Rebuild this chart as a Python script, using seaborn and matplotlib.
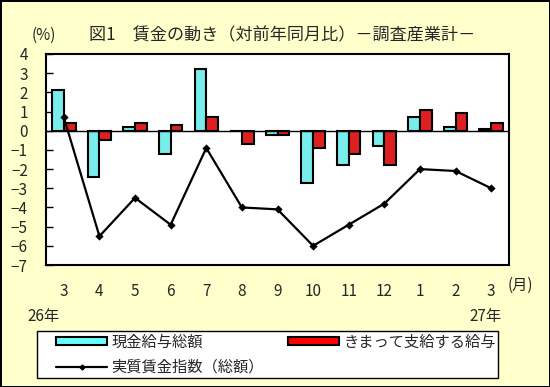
import matplotlib
matplotlib.use('Agg')
import matplotlib.pyplot as plt
import seaborn as sns
import pandas as pd
from matplotlib.patches import Patch, Rectangle
from matplotlib.lines import Line2D

# データ(対前年同月比, %)
periods = ['26-3', '26-4', '26-5', '26-6', '26-7', '26-8', '26-9', '26-10',
           '26-11', '26-12', '27-1', '27-2', '27-3']
month_labels = ['3', '4', '5', '6', '7', '8', '9', '10', '11', '12', '1', '2', '3']
genkin = [2.1, -2.4, 0.2, -1.2, 3.2, 0.0, -0.2, -2.7, -1.8, -0.8, 0.7, 0.2, 0.1]
kimatte = [0.4, -0.5, 0.4, 0.3, 0.7, -0.7, -0.2, -0.9, -1.2, -1.8, 1.1, 0.9, 0.4]
jisshitsu = [0.7, -5.5, -3.5, -4.9, -0.9, -4.0, -4.1, -6.0, -4.9, -3.8, -2.0, -2.1, -3.0]

s1 = '現金給与総額'
s2 = 'きまって支給する給与'
s3 = '実質賃金指数（総額）'

df = pd.DataFrame({
    '期間': periods * 2,
    '値': genkin + kimatte,
    '系列': [s1] * len(periods) + [s2] * len(periods),
})
df_line = pd.DataFrame({'期間': periods, '値': jisshitsu})

sns.set_theme(style='white')
plt.rcParams['font.family'] = ['Noto Sans CJK JP', 'DejaVu Sans']

bg = '#FFFFCC'
colors = {s1: '#66FFFF', s2: '#FF0000'}

fig = plt.figure(figsize=(5.5, 3.87), dpi=100)
fig.patch.set_facecolor(bg)
fig.patch.set_edgecolor('black')
fig.patch.set_linewidth(2)
ax = fig.add_axes([46 / 550, 1 - 265 / 387, (509 - 46) / 550, (265 - 54) / 387])
ax.set_facecolor('white')

sns.barplot(data=df, x='期間', y='値', hue='系列', order=periods,
            palette=colors, edgecolor='black', linewidth=1.5,
            width=0.66, gap=0, legend=False, ax=ax)
sns.pointplot(data=df_line, x='期間', y='値', order=periods, color='black',
              markers='D', markersize=3, linewidth=1.6, ax=ax)

ax.axhline(0, color='black', linewidth=1)
ax.set_ylim(-7, 4)
ax.set_yticks(range(-7, 5))
ax.set_xlim(-0.5, len(periods) - 0.5)
ax.set_xticks(range(len(periods)))
ax.set_xticklabels(month_labels)
ax.set_xlabel('')
ax.set_ylabel('')
ax.tick_params(axis='y', direction='in', length=5, width=1, left=True,
               labelsize=11, pad=13, color='black')
ax.tick_params(axis='x', length=0, labelsize=11, pad=13)
for sp in ax.spines.values():
    sp.set_color('black')
    sp.set_linewidth(1.5)

fig.text(44 / 550, 1 - 35 / 387, '(%)', fontsize=11, ha='center', va='center')
fig.text(89 / 550, 1 - 35 / 387, '図1　賃金の動き（対前年同月比）－調査産業計－',
         fontsize=12.3, ha='left', va='center')
fig.text(520 / 550, 1 - 285 / 387, '(月)', fontsize=11, ha='center', va='center')
fig.text(44 / 550, 1 - 317 / 387, '26年', fontsize=11, ha='center', va='center')
fig.text(485 / 550, 1 - 317 / 387, '27年', fontsize=11, ha='center', va='center')

# 凡例の枠
fig.add_artist(Rectangle((37 / 550, 9 / 387), (498 - 37) / 550, 47 / 387,
                         transform=fig.transFigure, facecolor='white',
                         edgecolor='black', linewidth=1, zorder=1))

handles = [
    Patch(facecolor=colors[s1], edgecolor='black', linewidth=1.5),
    Line2D([0], [0], color='black', linewidth=1.6, marker='D', markersize=2.5),
    Patch(facecolor=colors[s2], edgecolor='black', linewidth=1.5),
]
labels = [s1, s3, s2]
leg = fig.legend(handles, labels, ncol=2, loc='lower left', mode='expand',
                 bbox_to_anchor=(54 / 550, 9 / 387, (498 - 54) / 550, 47 / 387),
                 fontsize=11, frameon=False, handlelength=3.3,
                 handleheight=0.45, handletextpad=0.3, labelspacing=0.55,
                 borderpad=0.15, borderaxespad=0)
leg.set_zorder(2)

fig.savefig('out.png', dpi=100, facecolor=bg, edgecolor='black')
